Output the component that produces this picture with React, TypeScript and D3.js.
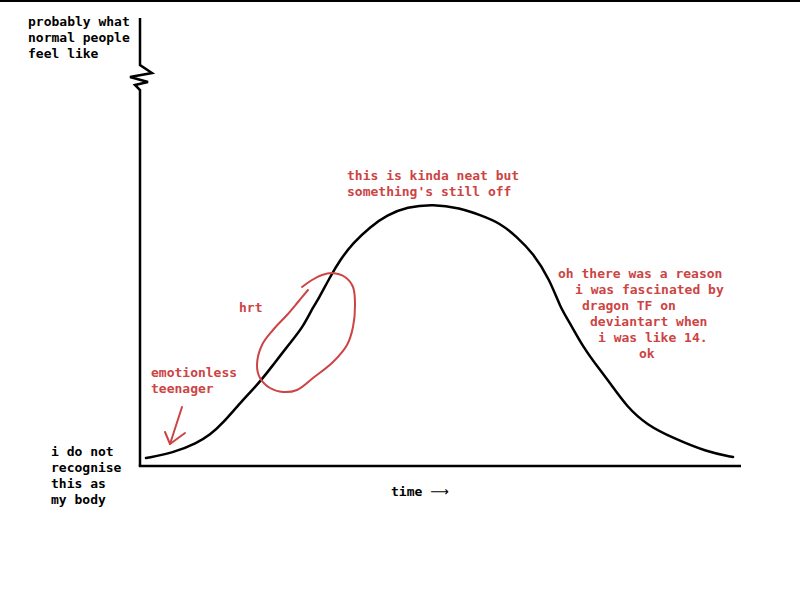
import React from "react";
import * as d3 from "d3";

// curve: [time, feeling]
const curveTime = [6, 33, 57, 70, 83, 100, 120, 133, 150, 163, 173, 178, 190, 200, 213, 230, 247, 267, 293, 320, 340, 360, 377, 393, 410, 420, 430, 443, 460, 470, 487, 507, 533, 567, 593];
const curveFeel = [8, 13, 23, 31, 43, 63, 84, 101, 123, 139, 159, 166, 189, 206, 223, 239, 251, 259, 262, 258, 251, 243, 229, 213, 186, 159, 143, 119, 96, 83, 59, 41, 28, 14, 9];

// red loop around "hrt"
const loopTime = [162, 172, 182, 192, 205, 213, 215, 213, 207, 193, 173, 157, 143, 130, 120, 117, 122, 133, 147, 158, 168];
const loopFeel = [179, 186, 191, 193, 189, 179, 161, 139, 121, 104, 88, 76, 74, 78, 88, 101, 121, 136, 151, 164, 176];

// y axis with break
const axisTime = [0, 0, -5, 8, -10, 12, 0, 0];
const axisFeel = [0, 376, 381, 384, 389, 393, 401, 448];

const yTopLabel = ["probably what", "normal people", "feel like"];
const yBottomLabel = ["i do not", "recognise", "this as", "my body"];
const xLabel = "time ";
const xArrow = "\u27F6";
const teenLabel = ["emotionless", "teenager"];
const hrtLabel = ["hrt"];
const peakLabel = ["this is kinda neat but", "something's still off"];
const dragonLabel = ["oh there was a reason", "i was fascinated by", "dragon TF on", "deviantart when", "i was like 14.", "ok"];

const RED = "#cc4444";
const FONT = "'DejaVu Sans Mono', monospace";

export default function App() {
  const W = 800, H = 600;
  const x = d3.scaleLinear().domain([0, 600]).range([140, 740]);
  const y = d3.scaleLinear().domain([0, 450]).range([466, 16]);

  const curvePts: [number, number][] = curveTime.map((t, i) => [t, curveFeel[i]]);
  const loopPts: [number, number][] = loopTime.map((t, i) => [t, loopFeel[i]]);
  const axisPts: [number, number][] = axisTime.map((t, i) => [t, axisFeel[i]]);

  const basis = d3.line<[number, number]>().x(d => x(d[0])).y(d => y(d[1])).curve(d3.curveBasis);
  const smooth = d3.line<[number, number]>().x(d => x(d[0])).y(d => y(d[1])).curve(d3.curveCatmullRom.alpha(0.5));
  const straight = d3.line<[number, number]>().x(d => x(d[0])).y(d => y(d[1]));

  const arrowShaft: [number, number][] = [[42, 59], [30, 22]];
  const arrowHead: [number, number][] = [[25, 34], [30, 22], [45, 33]];

  const block = (lines: string[], xs: number[], y0: number, color: string, key: string) =>
    lines.map((s, i) => (
      <text key={key + i} x={xs[i] ?? xs[0]} y={y0 + i * 16} fill={color} fontFamily={FONT} fontWeight="bold" fontSize={13} xmlSpace="preserve">{s}</text>
    ));

  return (
    <svg width={W} height={H} style={{ position: "absolute", left: 0, top: 0, background: "#fff" }}>
      <rect x={0} y={0} width={W} height={H} fill="#fff" />
      <line x1={0} x2={W} y1={1} y2={1} stroke="#000" strokeWidth={2} />
      {/* axes */}
      <path d={straight(axisPts) || ""} fill="none" stroke="#000" strokeWidth={2.5} strokeLinejoin="miter" />
      <line x1={x(0) - 1.25} x2={x(601)} y1={y(0)} y2={y(0)} stroke="#000" strokeWidth={2.5} />
      {/* main curve */}
      <path d={basis(curvePts) || ""} fill="none" stroke="#000" strokeWidth={2.5} strokeLinecap="round" />
      {/* red annotations */}
      <path d={smooth(loopPts) || ""} fill="none" stroke={RED} strokeWidth={2} strokeLinecap="round" />
      <path d={straight(arrowShaft) || ""} fill="none" stroke={RED} strokeWidth={2} strokeLinecap="round" />
      <path d={straight(arrowHead) || ""} fill="none" stroke={RED} strokeWidth={2} strokeLinecap="round" strokeLinejoin="round" />
      {/* texts */}
      {block(yTopLabel, [28], 26, "#000", "yt")}
      {block(yBottomLabel, [51], 456, "#000", "yb")}
      <text x={391} y={496} fontFamily={FONT} fontWeight="bold" fontSize={13} xmlSpace="preserve">
        {xLabel}
        <tspan fontFamily="'DejaVu Sans', sans-serif" fontWeight="normal" fontSize={13}>{xArrow}</tspan>
      </text>
      {block(teenLabel, [151], 377, RED, "te")}
      {block(hrtLabel, [239], 312, RED, "hr")}
      {block(peakLabel, [347], 180, RED, "pk")}
      {block(dragonLabel, [558, 575, 582, 590, 598, 639], 278, RED, "dr")}
    </svg>
  );
}
